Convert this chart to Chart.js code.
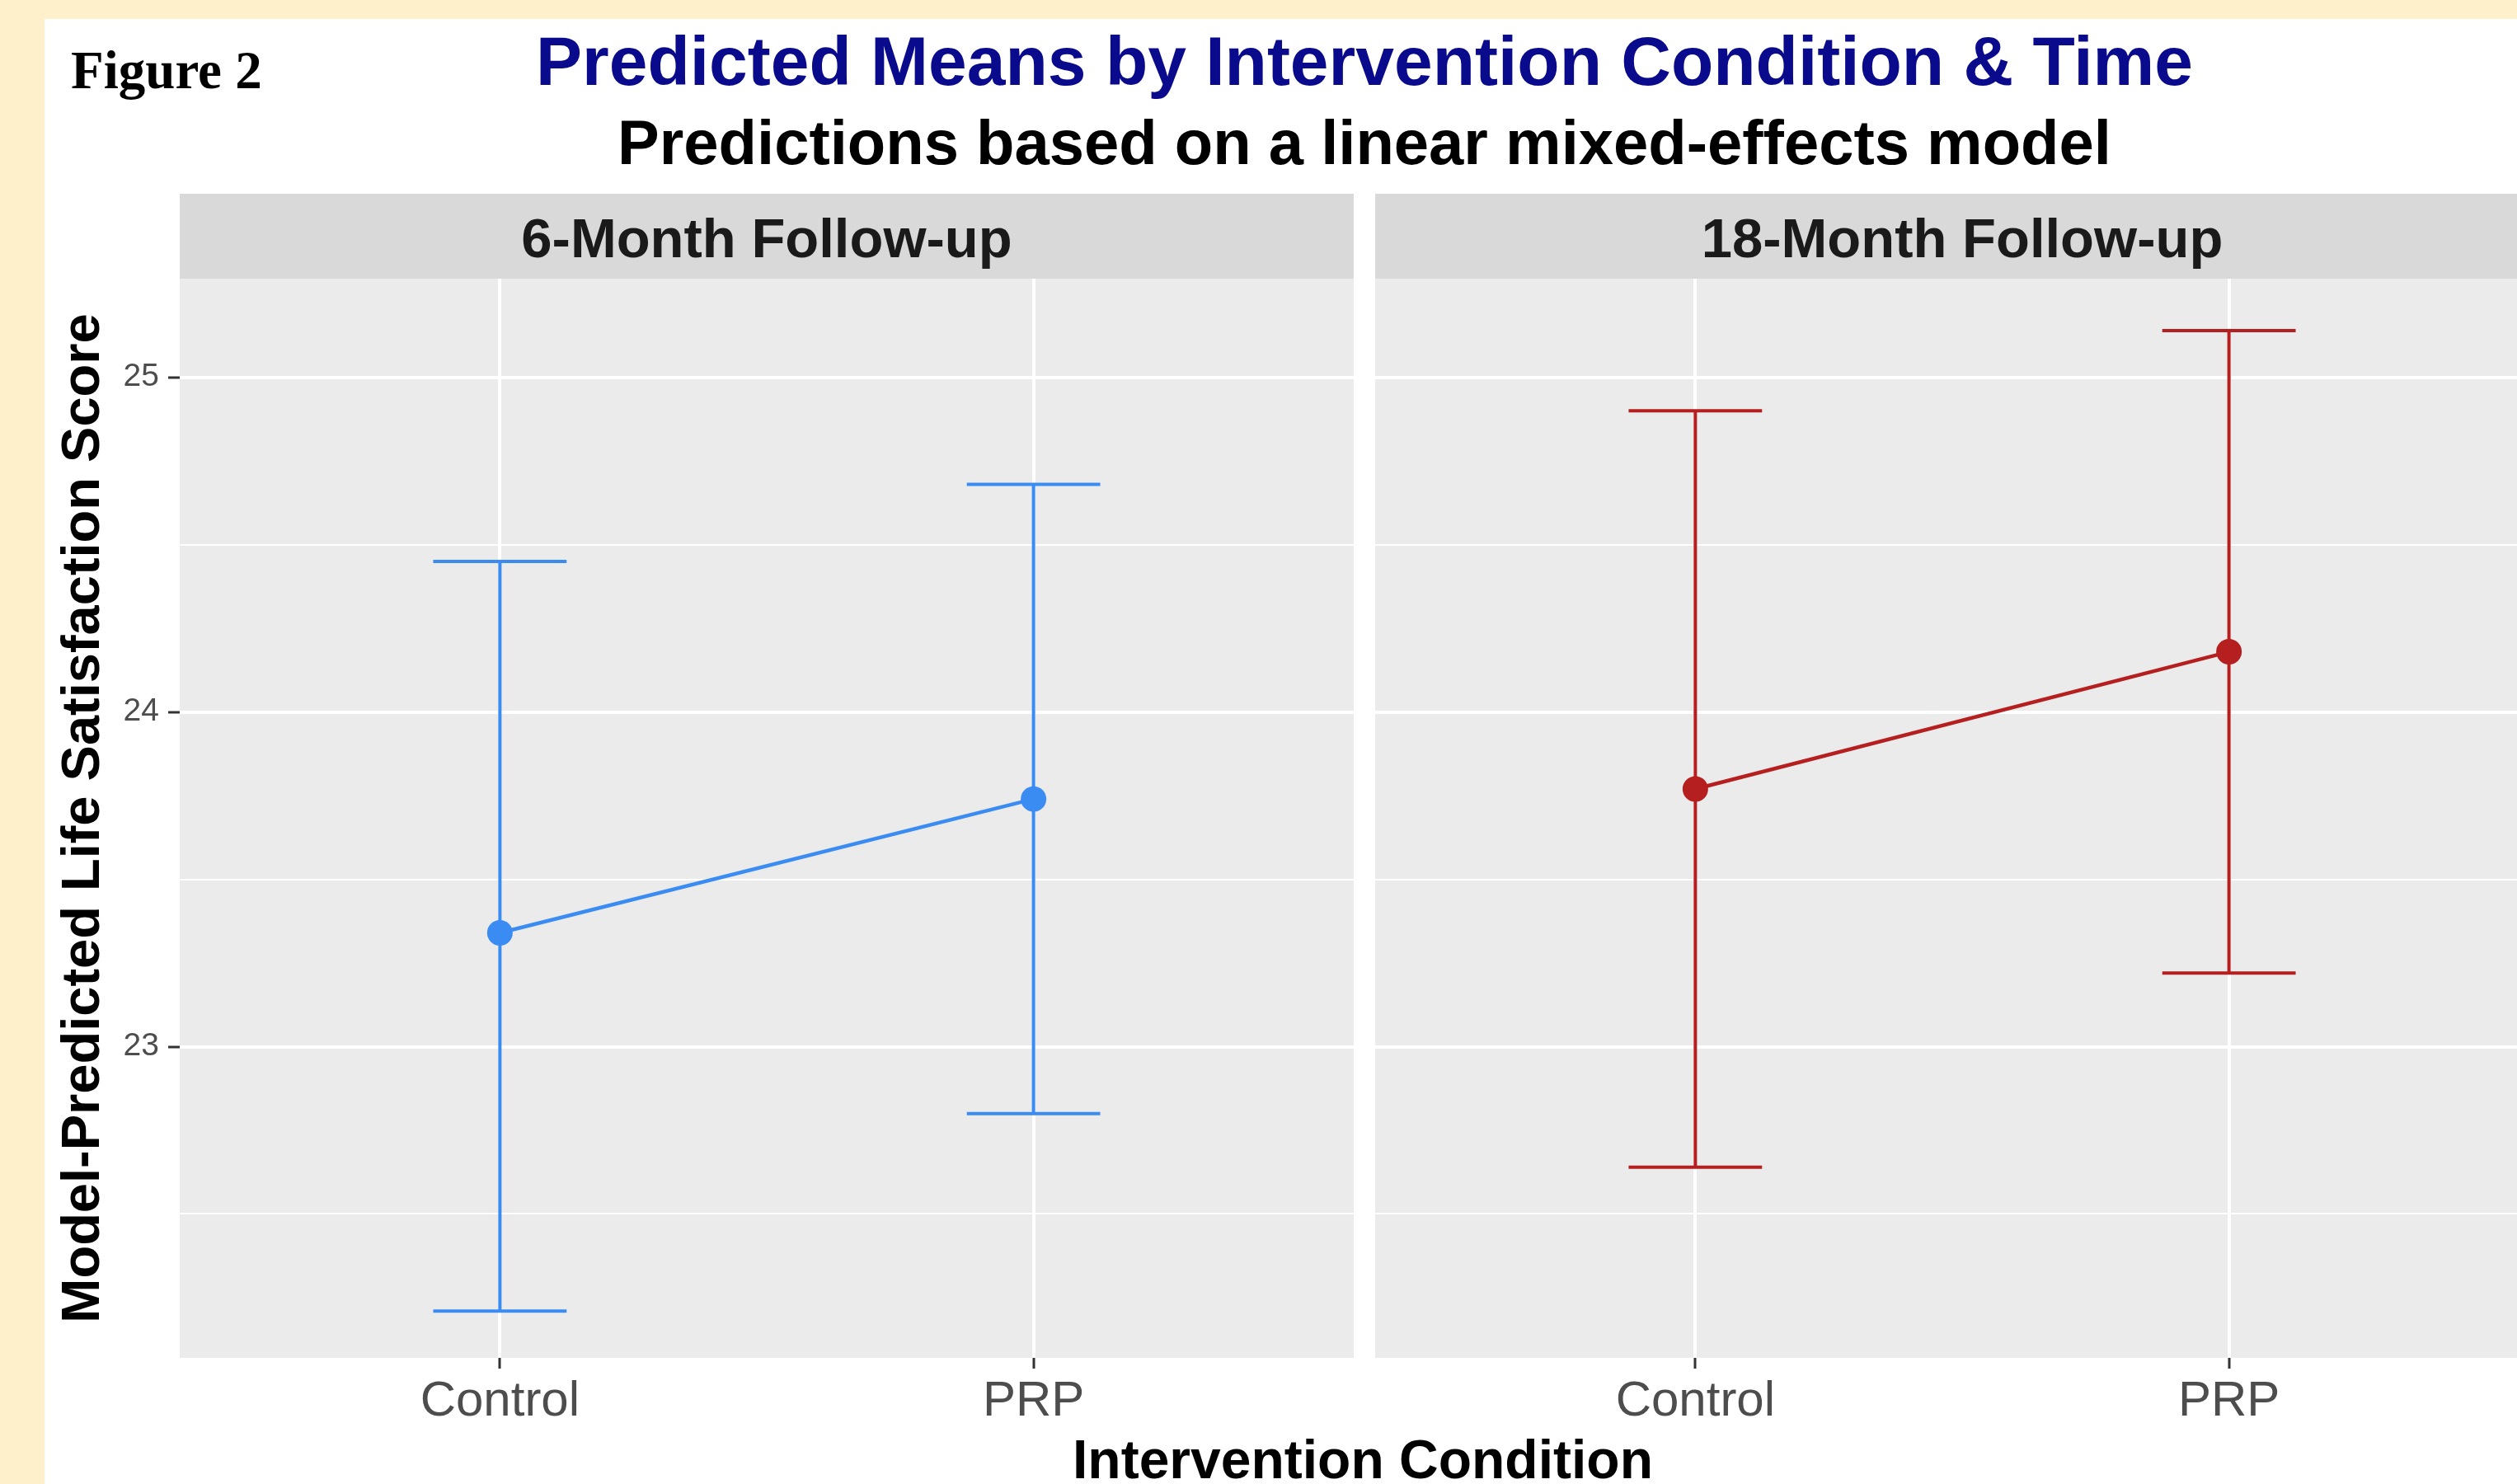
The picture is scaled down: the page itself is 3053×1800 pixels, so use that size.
<!DOCTYPE html>
<html>
<head>
<meta charset="utf-8">
<script src="https://cdn.jsdelivr.net/npm/chart.js@4"></script>
<style>
  body { margin: 0; width: 3053px; height: 1800px; overflow: hidden; background: #fff; position: relative;
         font-family: 'Liberation Sans', Arial, sans-serif; }
  .cream { position: absolute; background: #FFF0CC; }
  .txt { position: absolute; white-space: nowrap; line-height: 1; }
  canvas { position: absolute; }
</style>
</head>
<body>
<div class="cream" style="left:0;top:0;width:3053px;height:23px"></div>
<div class="cream" style="left:0;top:0;width:54px;height:1800px"></div>

<div class="txt" style="left:86px;top:53px;font-family:'Liberation Serif','Times New Roman',serif;font-weight:bold;font-size:65px;color:#000">Figure 2</div>
<div class="txt" style="left:0;width:3310px;text-align:center;top:32px;font-weight:bold;font-size:84px;color:#0A0A8C">Predicted Means by Intervention Condition &amp; Time</div>
<div class="txt" style="left:0;width:3310px;text-align:center;top:135px;font-weight:bold;font-size:76px;color:#000">Predictions based on a linear mixed-effects model</div>
<div class="txt" style="left:0;width:3306px;text-align:center;top:1737px;font-weight:bold;font-size:66px;color:#000">Intervention Condition</div>
<div class="txt" style="left:-603px;top:960px;width:1400px;height:65px;text-align:center;font-weight:bold;font-size:65px;color:#000;transform:rotate(-90deg)">Model-Predicted Life Satisfaction Score</div>

<canvas id="panel6" width="1542" height="1522" style="left:100px;top:235px"></canvas>
<canvas id="panel18" width="1424" height="1522" style="left:1668px;top:235px"></canvas>

<script>
// categories and panels
const conditions = ['Control', 'PRP'];
const timepoints = ['6-Month Follow-up', '18-Month Follow-up'];

// predicted means and confidence limits
const means6 = [23.34, 23.74];
const lower6 = [22.21, 22.80];
const upper6 = [24.45, 24.68];
const means18 = [23.77, 24.18];
const lower18 = [22.64, 23.22];
const upper18 = [24.90, 25.14];

// y axis
const yTicks = [23, 24, 25];
const yMinor = [22.5, 23.5, 24.5];

const FONT = "'Liberation Sans', Arial, sans-serif";
Chart.defaults.font.family = FONT;

const capWidth = 0.25;

// ggplot style panel + strip background
const panelBg = {
  id: 'panelBg',
  beforeDraw(chart) {
    const { ctx, chartArea: a } = chart;
    ctx.save();
    ctx.fillStyle = '#D9D9D9';
    ctx.fillRect(a.left, 0, a.right - a.left, a.top);
    ctx.fillStyle = '#EBEBEB';
    ctx.fillRect(a.left, a.top, a.right - a.left, a.bottom - a.top);
    ctx.restore();
  }
};

// error bars drawn through the chart scales
const errorBars = {
  id: 'errorBars',
  beforeDatasetsDraw(chart, args, opts) {
    const { ctx, scales: { x, y } } = chart;
    ctx.save();
    ctx.strokeStyle = opts.color;
    ctx.lineWidth = 4;
    opts.lower.forEach(function(lo, i) {
      const px = x.getPixelForValue(i + 1);
      const half = x.getPixelForValue(i + 1 + capWidth / 2) - px;
      const yLo = y.getPixelForValue(lo);
      const yHi = y.getPixelForValue(opts.upper[i]);
      ctx.beginPath();
      ctx.moveTo(px, yLo); ctx.lineTo(px, yHi);
      ctx.moveTo(px - half, yLo); ctx.lineTo(px + half, yLo);
      ctx.moveTo(px - half, yHi); ctx.lineTo(px + half, yHi);
      ctx.stroke();
    });
    ctx.restore();
  }
};

function makePanel(id, title, means, lower, upper, color, showY) {
  let ctx = document.getElementById(id).getContext('2d');
  return new Chart(ctx, {
    type: 'line',
    data: {
      datasets: [{
        data: means.map((m, i) => ({ x: i + 1, y: m })),
        borderColor: color,
        borderWidth: 4.5,
        pointRadius: 15.5,
        pointHoverRadius: 15.5,
        pointBackgroundColor: color,
        pointBorderWidth: 0,
        tension: 0
      }]
    },
    options: {
      responsive: false,
      animation: false,
      events: [],
      layout: { padding: 0, autoPadding: false },
      plugins: {
        legend: { display: false },
        tooltip: { enabled: false },
        title: {
          display: true,
          text: title,
          fullSize: false,
          color: '#1A1A1A',
          font: { size: 67, weight: 'bold' },
          padding: { top: 18, bottom: 4.6 }
        },
        errorBars: { lower: lower, upper: upper, color: color }
      },
      scales: {
        x: {
          type: 'linear',
          min: 0.4,
          max: 2.6,
          afterBuildTicks: s => { s.ticks = conditions.map((c, i) => ({ value: i + 1 })); },
          afterFit: s => { s.height = 110; },
          ticks: {
            callback: v => conditions[v - 1],
            color: '#4D4D4D',
            font: { size: 60 },
            padding: 4,
            maxRotation: 0,
            autoSkip: false
          },
          grid: { color: '#FFFFFF', lineWidth: 4, tickColor: '#333333', tickWidth: 3, tickLength: 13 },
          border: { display: false }
        },
        y: {
          type: 'linear',
          min: 22.07,
          max: 25.295,
          afterBuildTicks: s => { s.ticks = yMinor.concat(yTicks).sort().map(v => ({ value: v })); },
          afterFit: s => { s.width = showY ? 118 : 0; },
          ticks: {
            display: showY,
            callback: v => yTicks.includes(v) ? String(v) : '',
            color: '#4D4D4D',
            font: { size: 39 },
            padding: 11
          },
          grid: {
            color: '#FFFFFF',
            lineWidth: c => yTicks.includes(c.tick.value) ? 4 : 2,
            drawTicks: showY,
            tickColor: c => yTicks.includes(c.tick.value) ? '#333333' : 'rgba(0,0,0,0)',
            tickWidth: 3,
            tickLength: 14
          },
          border: { display: false }
        }
      }
    },
    plugins: [panelBg, errorBars]
  });
}

makePanel('panel6', timepoints[0], means6, lower6, upper6, '#3B8CF2', true);
makePanel('panel18', timepoints[1], means18, lower18, upper18, '#B51F1F', false);
</script>
</body>
</html>
